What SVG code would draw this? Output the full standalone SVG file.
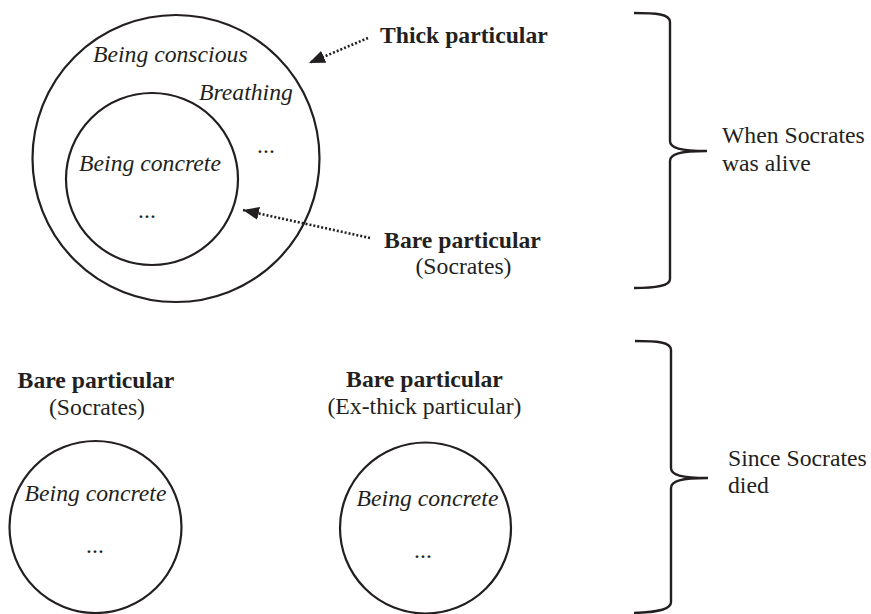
<svg xmlns="http://www.w3.org/2000/svg" width="871" height="614" viewBox="0 0 871 614">
<style>
text{font-family:"Liberation Serif","Times New Roman",serif;font-size:23.7px;fill:#231f20}
.i{font-style:italic}
.b{font-weight:bold}
.c{fill:none;stroke:#231f20;stroke-width:2.2}
.d{fill:none;stroke:#231f20;stroke-width:2.6;stroke-dasharray:2 2}
.br{fill:none;stroke:#231f20;stroke-width:2.4}
</style>
<defs>
<marker id="ah" markerUnits="userSpaceOnUse" markerWidth="17" markerHeight="13" refX="16" refY="6.5" orient="auto">
<path d="M0,0 L16,6.5 L0,13 z" fill="#231f20"/>
</marker>
</defs>
<rect width="871" height="614" fill="#fff"/>
<g id="thick-particular-circle">
<circle class="c" cx="176" cy="158.5" r="143.5"/>
<text class="i" x="93" y="62">Being conscious</text>
<text class="i" x="199" y="100">Breathing</text>
<text x="266" y="153" text-anchor="middle">...</text>
</g>
<g id="bare-particular-circle">
<circle class="c" cx="152" cy="179" r="86"/>
<text class="i" x="150" y="171" text-anchor="middle">Being concrete</text>
<text x="147" y="218" text-anchor="middle">...</text>
</g>
<g id="thick-label">
<text class="b" x="380" y="43">Thick particular</text>
</g>
<g id="bare-label">
<text class="b" x="462.5" y="248" text-anchor="middle">Bare particular</text>
<text x="463.5" y="274" text-anchor="middle">(Socrates)</text>
</g>
<g id="brace-alive">
<path class="br" d="M634,13 C656,13 670,14 670,22 L670,141 C670,148 680,151 707,151 C680,151 670,154 670,161 L670,279 C670,286 656,288 634,288"/>
<text x="722" y="143">When Socrates</text>
<text x="722" y="171">was alive</text>
</g>
<g id="brace-died">
<path class="br" d="M635,341 C657,341 671,342 671,350 L671,468 C671,475 681,478 708,478 C681,478 671,481 671,488 L671,602 C671,609 660,612 634,613"/>
<text x="728" y="466">Since Socrates</text>
<text x="728" y="493">died</text>
</g>
<g id="bare-socrates-after">
<text class="b" x="96" y="388" text-anchor="middle">Bare particular</text>
<text x="97" y="415" text-anchor="middle">(Socrates)</text>
<circle class="c" cx="95.5" cy="527" r="86"/>
<text class="i" x="95.5" y="501" text-anchor="middle">Being concrete</text>
<text x="95" y="553" text-anchor="middle">...</text>
</g>
<g id="bare-ex-thick">
<text class="b" x="424.5" y="387" text-anchor="middle">Bare particular</text>
<text x="424.5" y="414" text-anchor="middle">(Ex-thick particular)</text>
<circle class="c" cx="425.5" cy="528" r="85.5"/>
<text class="i" x="427.5" y="506" text-anchor="middle">Being concrete</text>
<text x="423" y="558" text-anchor="middle">...</text>
</g>
<g id="connectors">
<line class="d" x1="368" y1="38" x2="309" y2="63" marker-end="url(#ah)"/>
<line class="d" x1="370" y1="238" x2="243" y2="210" marker-end="url(#ah)"/>
</g>
</svg>
